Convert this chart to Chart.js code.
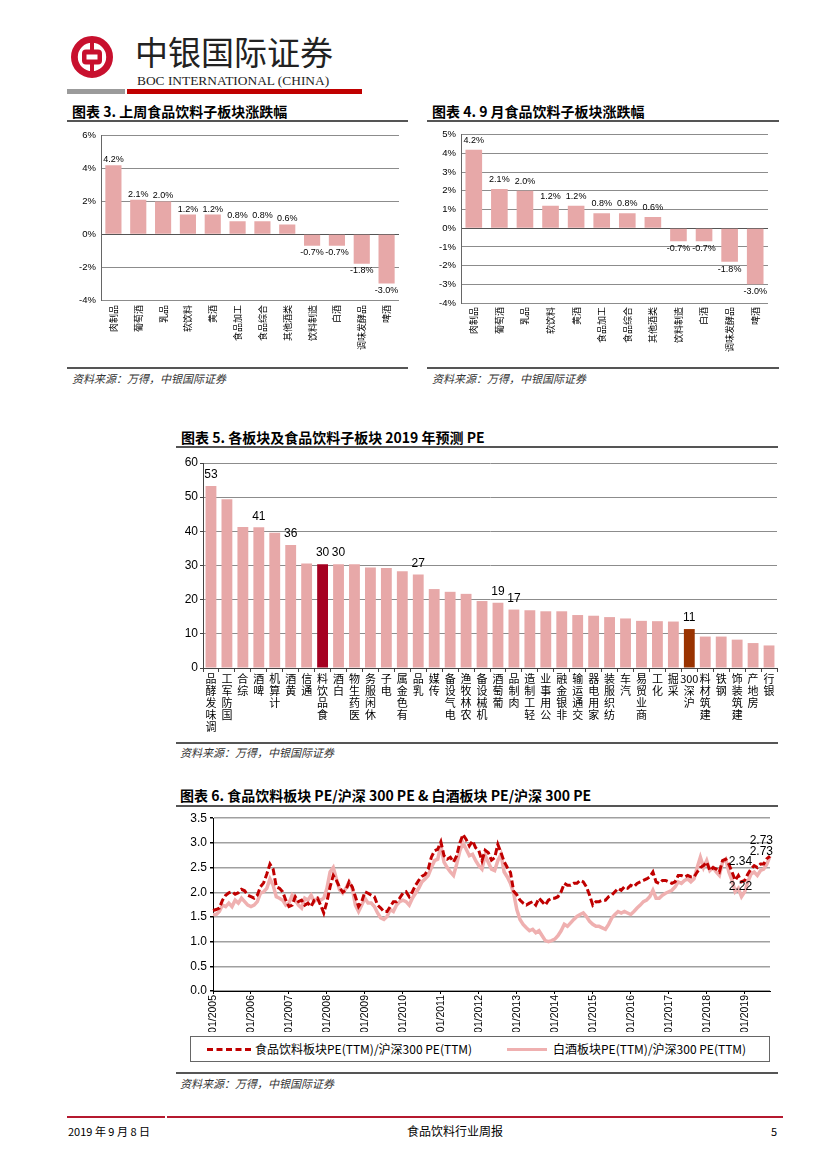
<!DOCTYPE html>
<html lang="zh-CN">
<head>
<meta charset="utf-8">
<title>食品饮料行业周报</title>
<script src="https://cdn.jsdelivr.net/npm/chart.js@4.4.1/dist/chart.umd.min.js"></script>
<style>
    body { margin: 0; background: #fff; }
    #page { position: relative; width: 827px; height: 1169px; overflow: hidden; font-family: 'Noto Sans CJK SC', sans-serif; color: #000; }
    .abs { position: absolute; white-space: nowrap; }
    .title { font-size: 14px; font-weight: bold; line-height: 16px; }
    .rule { position: absolute; height: 2px; background: #555; }
    .source { font-size: 11px; font-style: italic; color: #333; line-height: 13px; }
    canvas { position: absolute; }
    .legend { position: absolute; border: 1px solid #666; box-sizing: border-box; }
    .legend span { position: absolute; top: 5px; font-size: 12px; line-height: 14px; white-space: nowrap; }
    .legend i { position: absolute; top: 11px; height: 0; }
</style>
</head>
<body>
<div id="page">
    <!-- header -->
    <svg class="abs" style="left:71px;top:36px" width="42" height="42" viewBox="0 0 42 42">
        <circle cx="21" cy="21" r="17.6" fill="none" stroke="#C8102E" stroke-width="6.8"/>
        <rect x="19" y="1" width="4" height="40" fill="#C8102E"/>
        <rect x="11" y="13.5" width="20" height="15" rx="4" fill="#C8102E"/>
        <rect x="15.5" y="18.5" width="11" height="5" fill="#fff"/>
    </svg>
    <div class="abs" style="left:135px;top:31px;font-size:33px;line-height:40px;color:#222;">中银国际证券</div>
    <div class="abs" style="left:137px;top:73px;font-family:'Liberation Serif',serif;font-size:13.4px;line-height:16px;color:#222;">BOC INTERNATIONAL (CHINA)</div>
    <div class="abs" style="left:67px;top:89px;width:58px;height:5px;background:#9b9b9b;"></div>
    <div class="abs" style="left:127px;top:89px;width:235px;height:5px;background:#C00000;"></div>

    <!-- chart 3 -->
    <div class="abs title" style="left:72px;top:103px;">图表 3. 上周食品饮料子板块涨跌幅</div>
    <div class="rule" style="left:67px;top:120px;width:341px;"></div>
    <canvas id="weekChart" width="340" height="240" style="left:65px;top:125px;"></canvas>
    <div class="rule" style="left:67px;top:367px;width:341px;"></div>
    <div class="abs source" style="left:72px;top:372px;">资料来源：万得，中银国际证券</div>

    <!-- chart 4 -->
    <div class="abs title" style="left:432px;top:103px;">图表 4. 9 月食品饮料子板块涨跌幅</div>
    <div class="rule" style="left:427px;top:120px;width:352px;"></div>
    <canvas id="monthChart" width="350" height="241" style="left:425px;top:124px;"></canvas>
    <div class="rule" style="left:427px;top:367px;width:352px;"></div>
    <div class="abs source" style="left:432px;top:372px;">资料来源：万得，中银国际证券</div>

    <!-- chart 5 -->
    <div class="abs title" style="left:181px;top:429px;">图表 5. 各板块及食品饮料子板块 2019 年预测 PE</div>
    <div class="rule" style="left:176px;top:446px;width:602px;"></div>
    <canvas id="peChart" width="608" height="288" style="left:172px;top:452px;"></canvas>
    <div class="rule" style="left:176px;top:742px;width:602px;"></div>
    <div class="abs source" style="left:180px;top:746px;">资料来源：万得，中银国际证券</div>

    <!-- chart 6 -->
    <div class="abs title" style="left:180px;top:787px;">图表 6. 食品饮料板块 PE/沪深 300 PE &amp; 白酒板块 PE/沪深 300 PE</div>
    <div class="rule" style="left:176px;top:805px;width:602px;"></div>
    <canvas id="ratioChart" width="606" height="224" style="left:172px;top:808px;"></canvas>
    <div class="legend" style="left:190px;top:1036px;width:580px;height:26px;">
        <i style="left:16px;width:44px;border-top:3px dashed #C00000;"></i>
        <span style="left:64px;">食品饮料板块PE(TTM)/沪深300 PE(TTM)</span>
        <i style="left:316px;width:40px;border-top:3px solid #EFB0B0;"></i>
        <span style="left:362px;">白酒板块PE(TTM)/沪深300 PE(TTM)</span>
    </div>
    <div class="rule" style="left:176px;top:1072px;width:602px;"></div>
    <div class="abs source" style="left:180px;top:1077px;">资料来源：万得，中银国际证券</div>

    <!-- footer -->
    <div class="abs" style="left:67px;top:1116px;width:98px;height:2px;background:#B5192F;"></div>
    <div class="abs" style="left:167px;top:1116px;width:616px;height:2px;background:#B5192F;"></div>
    <div class="abs" style="left:68px;top:1124px;font-size:11px;line-height:14px;">2019 年 9 月 8 日</div>
    <div class="abs" style="left:407px;top:1123px;font-size:12px;line-height:15px;">食品饮料行业周报</div>
    <div class="abs" style="left:771px;top:1124px;font-size:11px;line-height:14px;">5</div>
</div>

<script>
// Data: sub-sector moves (chart 3 / 4)
const subSectors = ['肉制品', '葡萄酒', '乳品', '软饮料', '黄酒', '食品加工', '食品综合', '其他酒类', '饮料制造', '白酒', '调味发酵品', '啤酒'];
const weekChange = [4.2, 2.1, 2.0, 1.2, 1.2, 0.8, 0.8, 0.6, -0.7, -0.7, -1.8, -3.0];
const monthChange = [4.2, 2.1, 2.0, 1.2, 1.2, 0.8, 0.8, 0.6, -0.7, -0.7, -1.8, -3.0];

// Data: 2019 forecast PE (chart 5)
const sectors = ['调味发酵品', '国防军工', '综合', '啤酒', '计算机', '黄酒', '通信', '食品饮料', '白酒', '医药生物',
    '休闲服务', '电子', '有色金属', '乳品', '传媒', '电气设备', '农林牧渔', '机械设备', '葡萄酒', '肉制品',
    '轻工制造', '公用事业', '非银金融', '交通运输', '家用电器', '纺织服装', '汽车', '商业贸易', '化工', '采掘',
    '沪深300', '建筑材料', '钢铁', '建筑装饰', '房地产', '银行'];
const pe2019 = [53.3, 49.4, 41.3, 41.2, 39.6, 36.0, 30.6, 30.4, 30.4, 30.4,
    29.4, 29.3, 28.3, 27.4, 23.1, 22.3, 21.7, 19.6, 19.1, 17.1,
    16.9, 16.6, 16.6, 15.5, 15.3, 14.9, 14.5, 13.8, 13.7, 13.6,
    11.4, 9.2, 9.2, 8.3, 7.3, 6.6];
const peLabelled = ['调味发酵品', '啤酒', '黄酒', '食品饮料', '白酒', '乳品', '葡萄酒', '肉制品', '沪深300'];

// Data: relative PE, monthly 01/2005 - 09/2019 (chart 6)
const ratioYears = [2005, 2006, 2007, 2008, 2009, 2010, 2011, 2012, 2013, 2014, 2015, 2016, 2017, 2018, 2019];
const foodRatio = [
    1.63, 1.65, 1.68, 1.84, 1.94, 1.99, 2.01, 1.96, 1.99, 2.06, 2.03, 1.94,
    1.91, 1.88, 1.94, 2.11, 2.19, 2.37, 2.57, 2.47, 2.11, 2.08, 2.01, 1.84,
    1.71, 1.74, 1.91, 1.81, 1.84, 1.74, 1.78, 1.71, 1.84, 1.88, 1.74, 1.58,
    1.81, 2.11, 2.34, 2.24, 2.10, 2.00, 2.04, 2.21, 2.11, 1.91, 1.71, 1.81,
    2.01, 1.98, 1.94, 1.91, 1.74, 1.68, 1.61, 1.61, 1.71, 1.81, 1.81, 1.88,
    1.98, 2.01, 1.91, 2.01, 2.14, 2.24, 2.32, 2.36, 2.47, 2.71, 2.84, 2.87,
    3.02, 2.74, 2.67, 2.71, 2.61, 2.74, 3.00, 3.17, 3.07, 2.94, 3.04, 2.90,
    2.84, 2.64, 2.85, 2.80, 2.65, 2.70, 2.97, 2.80, 2.62, 2.50, 2.40, 2.02,
    1.95, 1.84, 1.78, 1.74, 1.78, 1.81, 1.74, 1.88, 1.81, 1.74, 1.84, 1.88,
    1.88, 1.91, 2.01, 2.18, 2.14, 2.14, 2.18, 2.18, 2.24, 2.21, 2.11, 1.94,
    1.74, 1.81, 1.81, 1.84, 1.84, 1.91, 1.94, 2.01, 2.08, 2.04, 2.11, 2.08,
    2.14, 2.11, 2.18, 2.21, 2.24, 2.27, 2.31, 2.41, 2.21, 2.18, 2.24, 2.24,
    2.21, 2.18, 2.21, 2.34, 2.34, 2.31, 2.34, 2.31, 2.31, 2.41, 2.50, 2.54,
    2.61, 2.44, 2.50, 2.47, 2.41, 2.64, 2.67, 2.57, 2.41, 2.24, 2.34, 2.21,
    2.24, 2.37, 2.47, 2.54, 2.50, 2.57, 2.57, 2.68, 2.73
];
const liquorRatio = [
    1.55, 1.55, 1.61, 1.74, 1.71, 1.78, 1.71, 1.84, 1.78, 1.88, 1.81, 1.74,
    1.71, 1.74, 1.81, 1.98, 2.01, 2.08, 2.27, 2.14, 1.91, 1.88, 1.84, 1.74,
    1.78, 1.94, 1.84, 1.74, 1.68, 1.88, 1.84, 1.94, 1.81, 1.88, 1.84, 1.88,
    2.08, 2.41, 2.50, 2.27, 2.05, 1.98, 2.08, 2.21, 2.08, 1.74, 1.61, 1.74,
    1.88, 1.78, 1.78, 1.71, 1.58, 1.48, 1.45, 1.51, 1.65, 1.61, 1.74, 1.81,
    1.84, 1.81, 1.74, 1.88, 1.98, 2.08, 2.21, 2.27, 2.34, 2.50, 2.64, 2.67,
    2.94, 2.61, 2.50, 2.41, 2.34, 2.57, 2.84, 3.00, 2.87, 2.74, 2.77, 2.64,
    2.54, 2.47, 2.75, 2.60, 2.47, 2.44, 2.64, 2.77, 2.41, 2.31, 2.18, 1.98,
    1.65, 1.45, 1.35, 1.28, 1.22, 1.25, 1.18, 1.22, 1.12, 1.02, 1.00, 1.02,
    1.05, 1.12, 1.22, 1.35, 1.31, 1.38, 1.45, 1.51, 1.55, 1.58, 1.51, 1.41,
    1.35, 1.31, 1.31, 1.28, 1.25, 1.35, 1.48, 1.55, 1.61, 1.58, 1.61, 1.58,
    1.55, 1.61, 1.68, 1.74, 1.81, 1.84, 1.91, 2.04, 1.88, 1.88, 1.94, 1.98,
    2.01, 2.04, 2.11, 2.21, 2.18, 2.24, 2.27, 2.21, 2.27, 2.50, 2.71, 2.50,
    2.64, 2.44, 2.50, 2.41, 2.34, 2.61, 2.67, 2.41, 2.24, 2.01, 2.08, 1.91,
    2.01, 2.21, 2.37, 2.41, 2.34, 2.44, 2.47, 2.57, 2.73
];
// value notes drawn next to points: [dataset, month index, text, dx, dy, align]
const ratioNotes = [
    [0, 176, '2.73', 3, -16, 'right'],
    [1, 176, '2.73', 3, -5, 'right'],
    [0, 163, '2.34', 0, -2, 'left'],
    [1, 163, '2.22', 0, 15, 'left']
];

const NARROW = "'Liberation Sans Narrow', 'Arial Narrow', 'Liberation Sans', Arial, sans-serif";
const CJK = "'Noto Sans CJK SC', sans-serif";
const BAR_PINK = '#E7A8A8';

Chart.defaults.font.family = "'Liberation Sans', Arial, sans-serif";
Chart.defaults.color = '#000';
Chart.defaults.animation = false;
Chart.defaults.plugins.legend.display = false;
Chart.defaults.plugins.tooltip.enabled = false;

// Draw value labels above / below bars
const barLabels = {
    id: 'barLabels',
    afterDatasetsDraw(chart, args, opts) {
        const ctx = chart.ctx;
        const data = chart.data.datasets[0].data;
        ctx.save();
        ctx.font = opts.font;
        ctx.fillStyle = '#000';
        ctx.textAlign = 'center';
        chart.getDatasetMeta(0).data.forEach((bar, i) => {
            if (opts.only && !opts.only.includes(opts.names[i])) return;
            const v = data[i];
            if (v >= 0) {
                ctx.textBaseline = 'bottom';
                ctx.fillText(opts.format(v), bar.x, bar.y - opts.above);
            } else {
                ctx.textBaseline = 'top';
                ctx.fillText(opts.format(v), bar.x, bar.y + opts.below);
            }
        });
        ctx.restore();
    }
};

// Draw the text notes on the line chart
const pointNotes = {
    id: 'pointNotes',
    afterDatasetsDraw(chart) {
        const ctx = chart.ctx;
        ctx.save();
        ctx.font = "12px 'Liberation Sans', Arial";
        ctx.fillStyle = '#000';
        ctx.textBaseline = 'middle';
        ratioNotes.forEach(([ds, idx, text, dx, dy, align]) => {
            const pt = chart.getDatasetMeta(ds).data[idx];
            ctx.textAlign = align;
            ctx.fillText(text, pt.x + dx, pt.y + dy);
        });
        ctx.restore();
    }
};

// Small sub-sector bar chart (chart 3 and 4)
function subSectorChart(id, values, box, yMin, yMax, step, labelGap) {
    return new Chart(document.getElementById(id), {
        type: 'bar',
        data: {
            labels: subSectors,
            datasets: [{ data: values, backgroundColor: BAR_PINK, categoryPercentage: 1, barPercentage: 0.65 }]
        },
        options: {
            responsive: false,
            layout: { padding: { top: box.top, right: box.right, left: 0, bottom: 0 } },
            scales: {
                x: {
                    afterFit: s => { s.height = box.xh; },
                    grid: { display: false, drawTicks: false },
                    border: { display: false },
                    ticks: { font: { family: CJK, size: 9 }, minRotation: 90, maxRotation: 90, padding: box.pad, autoSkip: false }
                },
                y: {
                    min: yMin, max: yMax,
                    afterFit: s => { s.width = box.yw; },
                    grid: { color: c => c.tick && c.tick.value === 0 ? '#555' : '#8c8c8c', drawTicks: false },
                    border: { color: '#666' },
                    ticks: { stepSize: step, padding: 5, font: { family: NARROW, size: 9.5 }, callback: v => v + '%' }
                }
            },
            plugins: {
                barLabels: { font: '9px ' + NARROW, above: labelGap[0], below: labelGap[1], format: v => v.toFixed(1) + '%' }
            }
        },
        plugins: [barLabels]
    });
}

subSectorChart('weekChart', weekChange, { top: 9, right: 6, xh: 65, yw: 36, pad: 5 }, -4, 6, 2, [1, 2]);
subSectorChart('monthChart', monthChange, { top: 9, right: 7, xh: 62, yw: 36, pad: 4 }, -4, 5, 1, [5, 3]);

// Chart 5: sector PE
const peColors = sectors.map(s => s === '食品饮料' ? '#A50021' : (s === '沪深300' ? '#993300' : BAR_PINK));
new Chart(document.getElementById('peChart'), {
    type: 'bar',
    data: {
        labels: sectors.map(s => s.match(/\d+|./g).reverse()),
        datasets: [{ data: pe2019, backgroundColor: peColors, categoryPercentage: 1, barPercentage: 0.68 }]
    },
    options: {
        responsive: false,
        layout: { padding: { top: 11, right: 3, left: 0, bottom: 0 } },
        scales: {
            x: {
                afterFit: s => { s.height = 72; },
                grid: { drawOnChartArea: false, tickLength: 4, color: '#444' },
                border: { color: '#444' },
                ticks: { font: { family: CJK, size: 11, lineHeight: 1.08 }, maxRotation: 0, minRotation: 0, padding: 1, autoSkip: false }
            },
            y: {
                min: 0, max: 60,
                afterFit: s => { s.width = 31; },
                grid: { color: '#8c8c8c', tickLength: 3, tickColor: '#444' },
                border: { color: '#444' },
                ticks: { stepSize: 10, padding: 2, font: { size: 12 } }
            }
        },
        plugins: {
            barLabels: { font: "12px 'Liberation Sans', Arial", above: 5, below: 3, only: peLabelled, names: sectors, format: v => Math.round(v) }
        }
    },
    plugins: [barLabels]
});

// Chart 6: relative PE lines
const monthLabels = [];
ratioYears.forEach(y => {
    for (let m = 1; m <= 12; m++) {
        if (monthLabels.length < foodRatio.length) monthLabels.push(String(m).padStart(2, '0') + '/' + y);
    }
});

new Chart(document.getElementById('ratioChart'), {
    type: 'line',
    data: {
        labels: monthLabels,
        datasets: [
            { data: foodRatio, borderColor: '#C00000', borderWidth: 3, borderDash: [7, 3], pointRadius: 0, tension: 0 },
            { data: liquorRatio, borderColor: '#EFB0B0', borderWidth: 3.5, pointRadius: 0, tension: 0 }
        ]
    },
    options: {
        responsive: false,
        layout: { padding: { top: 7, right: 8, left: 0, bottom: 0 } },
        scales: {
            x: {
                afterFit: s => { s.height = 41; },
                afterBuildTicks: axis => { axis.ticks = axis.ticks.filter(t => t.value % 12 === 0); },
                grid: { drawOnChartArea: false, tickLength: 3, color: '#000' },
                border: { color: '#000' },
                ticks: { font: { family: NARROW, size: 10.5 }, minRotation: 90, maxRotation: 90, padding: 1, autoSkip: false }
            },
            y: {
                min: 0, max: 3.5,
                afterFit: s => { s.width = 41; },
                grid: { color: '#a0a0a0', lineWidth: 1.5, tickLength: 3, tickColor: '#000' },
                border: { color: '#000' },
                ticks: { stepSize: 0.5, padding: 3, font: { size: 12 }, callback: v => v.toFixed(1) }
            }
        }
    },
    plugins: [pointNotes]
});
</script>
</body>
</html>
